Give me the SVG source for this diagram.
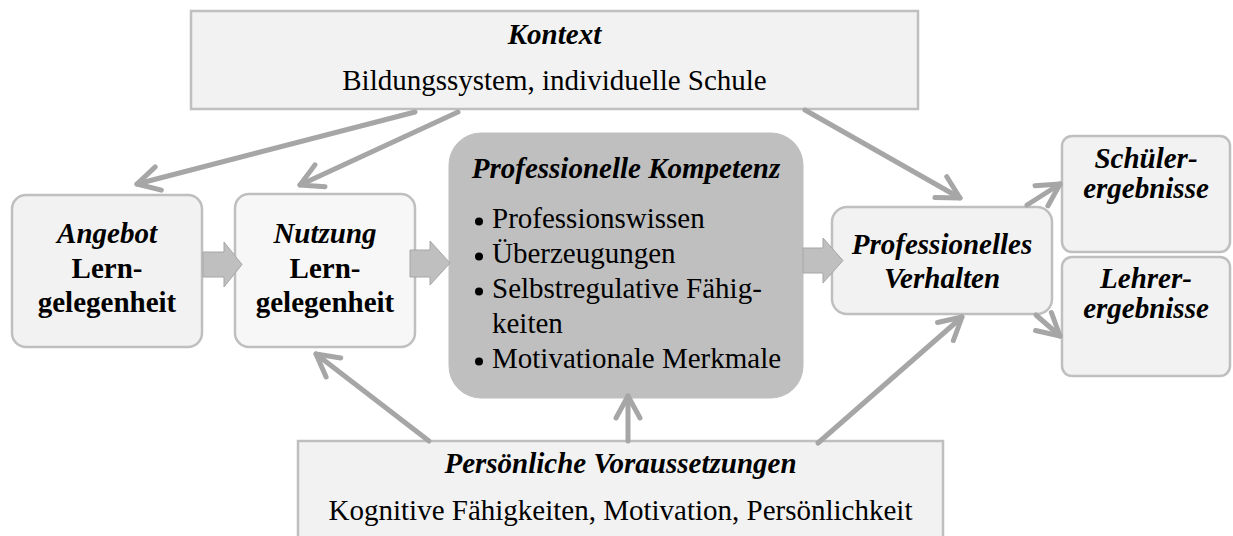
<svg xmlns="http://www.w3.org/2000/svg" width="1233" height="536" viewBox="0 0 1233 536">
<defs>
<style>
.box{fill:#f2f2f2;stroke:#bfbfbf;stroke-width:2.5}
.box2{fill:#f7f7f7;stroke:#bfbfbf;stroke-width:2.5}
.comp{fill:#bfbfbf;stroke:#bfbfbf;stroke-width:1}
.t{font-family:"Liberation Serif","Times New Roman",serif;font-size:29px;fill:#000}
.bi{font-weight:bold;font-style:italic}
.b{font-weight:bold}
.c{text-anchor:middle}
.ln{stroke:#a6a6a6;stroke-width:5;fill:none;stroke-linecap:round}
.fat{fill:#bfbfbf;stroke:#a6a6a6;stroke-width:1}
</style>
<marker id="ah" markerUnits="userSpaceOnUse" viewBox="-26 -16 30 32" refX="0" refY="0" markerWidth="30" markerHeight="32" orient="auto">
<path d="M -22 -12 L 0 0 L -22 12" fill="none" stroke="#a6a6a6" stroke-width="5" stroke-linecap="round" stroke-linejoin="round"/>
</marker>
</defs>
<rect width="1233" height="536" fill="#ffffff"/>

<g id="kontext">
<rect class="box" x="191" y="11" width="727" height="98"/>
<text class="t bi c" x="554.5" y="44">Kontext</text>
<text class="t c" x="554.5" y="90">Bildungssystem, individuelle Schule</text>
</g>

<g id="angebot">
<rect class="box" x="12" y="195" width="190" height="152" rx="14"/>
<text class="t bi c" x="107" y="243">Angebot</text>
<text class="t b c" x="107" y="278">Lern-</text>
<text class="t b c" x="107" y="312">gelegenheit</text>
</g>

<g id="nutzung">
<rect class="box2" x="235" y="194" width="180" height="153" rx="14"/>
<text class="t bi c" x="325" y="243">Nutzung</text>
<text class="t b c" x="325" y="278">Lern-</text>
<text class="t b c" x="325" y="312">gelegenheit</text>
</g>

<g id="kompetenz">
<rect class="comp" x="449" y="133" width="354" height="265" rx="32"/>
<text class="t bi c" x="626" y="178">Professionelle Kompetenz</text>
<circle cx="479" cy="221.5" r="4"/>
<text class="t" x="492" y="228">Professionswissen</text>
<circle cx="479" cy="256.5" r="4"/>
<text class="t" x="492" y="263">Überzeugungen</text>
<circle cx="479" cy="291.5" r="4"/>
<text class="t" x="492" y="298">Selbstregulative Fähig-</text>
<text class="t" x="492" y="333">keiten</text>
<circle cx="479" cy="361.5" r="4"/>
<text class="t" x="492" y="368">Motivationale Merkmale</text>
</g>

<g id="verhalten">
<rect class="box" x="832" y="207" width="220" height="107" rx="15"/>
<text class="t bi c" x="942" y="254">Professionelles</text>
<text class="t bi c" x="942" y="288">Verhalten</text>
</g>

<g id="schueler">
<rect class="box" x="1062" y="136" width="168" height="116" rx="10"/>
<text class="t bi c" x="1146" y="168">Schüler-</text>
<text class="t bi c" x="1146" y="198">ergebnisse</text>
</g>

<g id="lehrer">
<rect class="box" x="1062" y="257" width="168" height="119" rx="10"/>
<text class="t bi c" x="1146" y="288">Lehrer-</text>
<text class="t bi c" x="1146" y="318">ergebnisse</text>
</g>

<g id="voraussetzungen">
<rect class="box" x="298" y="441" width="645" height="110"/>
<text class="t bi c" x="620.5" y="473">Persönliche Voraussetzungen</text>
<text class="t c" x="620.5" y="520">Kognitive Fähigkeiten, Motivation, Persönlichkeit</text>
</g>

<g id="connectors">
<polygon class="fat" points="203,252 224,252 224,242 242,264.5 224,287 224,277 203,277"/>
<polygon class="fat" points="410,250 430,250 430,241 450,263 430,285 430,277 410,277"/>
<polygon class="fat" points="803,248 823,248 823,238 843,260.5 823,283 823,273 803,273"/>
<line class="ln" x1="415" y1="112" x2="137" y2="184" marker-end="url(#ah)"/>
<line class="ln" x1="458" y1="112" x2="300" y2="185" marker-end="url(#ah)"/>
<line class="ln" x1="805" y1="110" x2="960" y2="198" marker-end="url(#ah)"/>
<line class="ln" x1="1027" y1="205" x2="1060" y2="184" marker-end="url(#ah)"/>
<line class="ln" x1="1036" y1="315" x2="1060" y2="336" marker-end="url(#ah)"/>
<line class="ln" x1="429" y1="441" x2="316" y2="354" marker-end="url(#ah)"/>
<line class="ln" x1="628" y1="441" x2="628" y2="396" marker-end="url(#ah)"/>
<line class="ln" x1="818" y1="443" x2="962" y2="317" marker-end="url(#ah)"/>
</g>
</svg>
